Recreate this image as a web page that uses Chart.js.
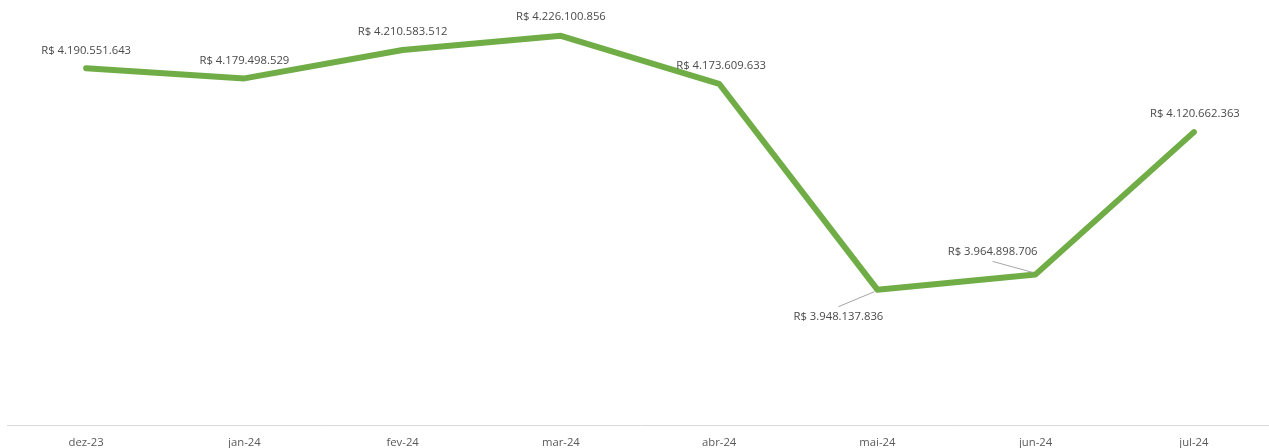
<!DOCTYPE html>
<html lang="pt-BR">
<head>
  <meta charset="UTF-8" />
  <title>Faturamento mensal</title>
  <script src="https://cdn.jsdelivr.net/npm/chart.js"></script>
  <style>
    html, body {
      margin: 0;
      padding: 0;
      background: #ffffff;
      overflow: hidden;
    }
    #wrap {
      position: relative;
      width: 1273px;
      height: 448px;
    }
  </style>
</head>
<body>
  <div id="wrap">
    <canvas id="revChart"></canvas>
  </div>

  <script>
    const months = ["dez-23", "jan-24", "fev-24", "mar-24", "abr-24", "mai-24", "jun-24", "jul-24"];
    const revenue = [4190551643, 4179498529, 4210583512, 4226100856, 4173609633, 3948137836, 3964898706, 4120662363];

    // where each value label sits relative to its point (dx, dy) and whether it gets a leader line
    const labelPlacement = [
      { dx: 0, dy: -18 },
      { dx: 0, dy: -18 },
      { dx: 0, dy: -18 },
      { dx: 0, dy: -19 },
      { dx: 2, dy: -18 },
      { dx: -39, dy: 27, leader: true },
      { dx: -43, dy: -23, leader: true },
      { dx: 1, dy: -18 }
    ];

    function brl(v) {
      return "R$ " + v.toString().replace(/\B(?=(\d{3})+(?!\d))/g, ".");
    }

    const valueLabels = {
      id: "valueLabels",
      afterDatasetsDraw(chart) {
        const ctx = chart.ctx;
        const meta = chart.getDatasetMeta(0);
        ctx.save();
        ctx.font = "11.3px 'Open Sans', sans-serif";
        ctx.fillStyle = "#4a4a4a";
        ctx.textAlign = "center";
        ctx.textBaseline = "middle";
        meta.data.forEach((pt, i) => {
          const p = labelPlacement[i];
          const tx = pt.x + p.dx;
          const ty = pt.y + p.dy;
          if (p.leader) {
            ctx.strokeStyle = "#a6a6a6";
            ctx.lineWidth = 1;
            ctx.beginPath();
            const sy = p.dy > 0 ? ty - 10 : ty + 10;
            ctx.moveTo(tx, sy);
            ctx.lineTo(pt.x - 3, pt.y + (p.dy > 0 ? 2 : -2));
            ctx.stroke();
          }
          ctx.fillText(brl(chart.data.datasets[0].data[i]), tx, ty);
        });
        ctx.restore();
      }
    };

    new Chart(document.getElementById("revChart"), {
      type: "line",
      data: {
        labels: months,
        datasets: [{
          data: revenue,
          borderColor: "#70ad47",
          borderWidth: 6,
          borderCapStyle: "round",
          borderJoinStyle: "round",
          pointRadius: 0,
          tension: 0,
          fill: false,
          clip: false
        }]
      },
      options: {
        responsive: true,
        maintainAspectRatio: false,
        animation: false,
        layout: { padding: { top: 14, left: 7, right: 0, bottom: 0 } },
        plugins: {
          legend: { display: false },
          tooltip: { enabled: false }
        },
        scales: {
          x: {
            offset: true,
            grid: { display: false, drawTicks: false },
            border: { display: true, color: "#d9d9d9", width: 1 },
            ticks: {
              color: "#595959",
              padding: 11,
              font: { family: "'Open Sans', sans-serif", size: 11.3 }
            },
            afterFit(scale) {
              scale.height = 23;
            }
          },
          y: {
            display: false,
            min: 3800000000,
            max: 4250000000
          }
        }
      },
      plugins: [valueLabels]
    });
  </script>
</body>
</html>
